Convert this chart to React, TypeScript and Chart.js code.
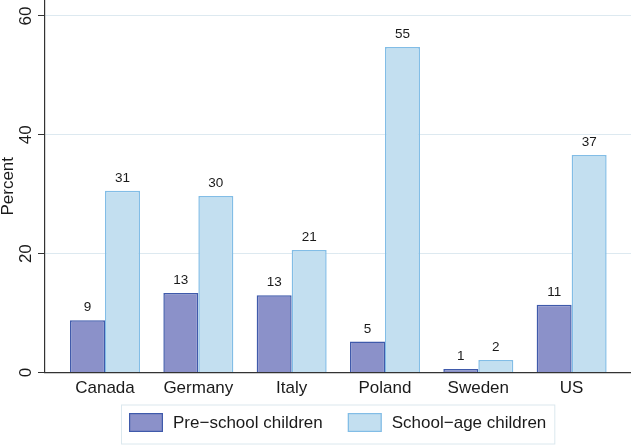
import { useEffect, useRef } from "react";
import { Chart, registerables } from "chart.js";

Chart.register(...registerables);

const categories = ["Canada", "Germany", "Italy", "Poland", "Sweden", "US"];
const preSchool = [8.8, 13.4, 13.0, 5.2, 0.6, 11.4];
const schoolAge = [30.6, 29.7, 20.6, 54.8, 2.1, 36.6];
const yTicks = [0, 20, 40, 60];
const seriesLabels = ["Pre\u2212school children", "School\u2212age children"];

const FONT = "'Liberation Sans', Arial, Helvetica, sans-serif";
const TEXT = "#1a1a1a";
const PRE_FILL = "#8b91c9";
const PRE_BORDER = "#3f5aab";
const SCH_FILL = "#c3dff0";
const SCH_BORDER = "#82bde6";

const dataLabels = {
  id: "dataLabels",
  afterDatasetsDraw(chart: any) {
    const ctx = chart.ctx;
    ctx.save();
    ctx.font = `13.5px ${FONT}`;
    ctx.fillStyle = TEXT;
    ctx.textAlign = "center";
    ctx.textBaseline = "alphabetic";
    chart.data.datasets.forEach((ds: any, i: number) => {
      const meta = chart.getDatasetMeta(i);
      meta.data.forEach((bar: any, j: number) => {
        const v = ds.data[j].y;
        ctx.fillText(String(Math.round(v)), bar.x, bar.y - 9);
      });
    });
    ctx.restore();
  },
};

const legendBox = {
  id: "legendBox",
  afterDraw(chart: any) {
    const ctx = chart.ctx;
    const area = chart.chartArea;
    ctx.save();
    ctx.font = `17px ${FONT}`;
    const sw = 34, sh = 19, padX = 8, gapText = 10, gapItem = 25;
    const w1 = ctx.measureText(seriesLabels[0]).width;
    const w2 = ctx.measureText(seriesLabels[1]).width;
    const total = padX + sw + gapText + w1 + gapItem + sw + gapText + w2 + padX;
    const cx = (area.left + area.right) / 2;
    const left = Math.round(cx - total / 2);
    const top = area.bottom + 32.5;
    const h = 40;
    ctx.strokeStyle = "#dbe8ee";
    ctx.lineWidth = 1;
    ctx.strokeRect(left + 0.5, top, total, h - 1);
    const sy = top + 8;
    const ty = sy + sh / 2 + 1;
    const items = [
      { fill: PRE_FILL, border: PRE_BORDER, text: seriesLabels[0], w: w1 },
      { fill: SCH_FILL, border: SCH_BORDER, text: seriesLabels[1], w: w2 },
    ];
    let x = left + padX;
    items.forEach((it) => {
      ctx.fillStyle = it.fill;
      ctx.fillRect(x, sy, sw, sh);
      ctx.strokeStyle = it.border;
      ctx.lineWidth = 1.2;
      ctx.strokeRect(x + 0.6, sy + 0.6, sw - 1.2, sh - 1.2);
      ctx.fillStyle = TEXT;
      ctx.textAlign = "left";
      ctx.textBaseline = "middle";
      ctx.fillText(it.text, x + sw + gapText, ty);
      x += sw + gapText + it.w + gapItem;
    });
    ctx.restore();
  },
};

export default function App() {
  const ref = useRef<HTMLCanvasElement | null>(null);
  useEffect(() => {
    document.body.style.margin = "0";
    Chart.defaults.font.family = FONT;
    const chart = new Chart(ref.current as HTMLCanvasElement, {
      type: "bar",
      data: {
        datasets: [
          {
            label: seriesLabels[0],
            data: categories.map((_, i) => ({ x: i, y: preSchool[i] })) as any,
            backgroundColor: PRE_FILL,
            borderColor: PRE_BORDER,
            borderWidth: 1.5,
          },
          {
            label: seriesLabels[1],
            data: categories.map((_, i) => ({ x: i, y: schoolAge[i] })) as any,
            backgroundColor: SCH_FILL,
            borderColor: SCH_BORDER,
            borderWidth: 1.5,
          },
        ],
      },
      options: {
        responsive: false,
        animation: false,
        maintainAspectRatio: false,
        layout: { padding: 0, autoPadding: false } as any,
        categoryPercentage: 0.75,
        barPercentage: 1,
        plugins: {
          legend: { display: false },
          tooltip: { enabled: false },
        },
        scales: {
          x: {
            type: "linear",
            min: -0.643,
            max: 5.636,
            offset: false,
            grid: { color: "rgba(0,0,0,0)", drawTicks: false, offset: false },
            border: { display: true, color: "#333", width: 1.2 },
            afterBuildTicks: (s: any) => {
              s.ticks = categories.map((_, i) => ({ value: i }));
            },
            ticks: {
              autoSkip: false,
              maxRotation: 0,
              minRotation: 0,
              padding: 6,
              color: TEXT,
              font: { family: FONT, size: 17 },
              callback: (v: any) => categories[v as number],
            },
            afterFit: (s: any) => {
              s.height = 73.5;
              s.paddingLeft = 0;
              s.paddingRight = 0;
              s.paddingTop = 0;
              s.paddingBottom = 0;
            },
          } as any,
          y: {
            min: 0,
            max: 62.69,
            afterBuildTicks: (s: any) => {
              s.ticks = yTicks.map((v) => ({ value: v }));
            },
            grid: {
              color: (c: any) => (c.tick && c.tick.value === 0 ? "rgba(0,0,0,0)" : "#dde9f0"),
              tickColor: "#333",
              tickLength: 7,
              lineWidth: 1,
            },
            border: { color: "#333", width: 1.2 },
            ticks: {
              minRotation: 90,
              maxRotation: 90,
              crossAlign: "center",
              padding: 2,
              color: TEXT,
              font: { family: FONT, size: 17 },
            },
            title: {
              display: true,
              text: "Percent",
              color: TEXT,
              font: { family: FONT, size: 17, lineHeight: 1 },
              padding: 0,
            },
            afterFit: (s: any) => {
              s.width = 45;
              s.paddingLeft = 0;
              s.paddingRight = 0;
              s.paddingTop = 0;
              s.paddingBottom = 0;
            },
          } as any,
        },
      },
      plugins: [dataLabels, legendBox],
    });
    return () => chart.destroy();
  }, []);
  return (
    <div style={{ width: 631, height: 446, position: "relative" }}>
      <canvas ref={ref} width={631} height={446} />
    </div>
  );
}
